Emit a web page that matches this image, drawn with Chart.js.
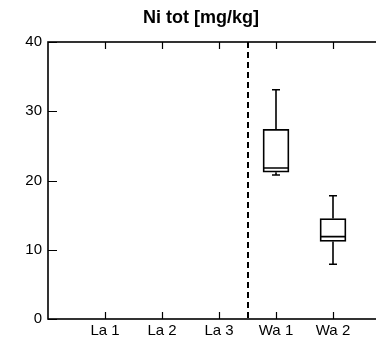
<!DOCTYPE html>
<html>
<head>
<meta charset="utf-8">
<script src="https://cdn.jsdelivr.net/npm/chart.js@4.4.1/dist/chart.umd.min.js"></script>
<style>
  html, body { margin: 0; padding: 0; background: #fff; overflow: hidden; }
  #wrap { width: 402px; height: 345px; }
</style>
</head>
<body>
<div id="wrap"><canvas id="chart" width="402" height="345"></canvas></div>
<script>
// chart data
var categories = ["La 1", "La 2", "La 3", "Wa 1", "Wa 2"];
var catPos = [1, 2, 3, 4, 5];
var whiskerLow = [null, null, null, 20.8, 7.9];
var q1 = [null, null, null, 21.2, 11.2];
var median = [null, null, null, 21.8, 11.9];
var q3 = [null, null, null, 27.4, 14.5];
var whiskerHigh = [null, null, null, 33.1, 17.8];
var yTicks = [0, 10, 20, 30, 40];
var dividerAt = 3.5;

var boxData = [];
for (var i = 0; i < categories.length; i++) {
  if (q1[i] !== null) boxData.push({ x: catPos[i], y: [q1[i], q3[i]] });
}

// frame, inward ticks, divider, whiskers and medians
var boxExtras = {
  id: "boxExtras",
  afterDatasetsDraw: function(chart) {
    var ctx = chart.ctx, a = chart.chartArea;
    var xs = chart.scales.x, ys = chart.scales.y;
    ctx.save();
    ctx.strokeStyle = "#000";

    // whiskers + medians
    ctx.lineWidth = 1.6;
    for (var i = 0; i < categories.length; i++) {
      if (q1[i] === null) continue;
      var px = Math.round(xs.getPixelForValue(catPos[i]));
      var half = 13, cap = 4;
      ctx.beginPath();
      ctx.moveTo(px, ys.getPixelForValue(q3[i]));
      ctx.lineTo(px, ys.getPixelForValue(whiskerHigh[i]));
      ctx.moveTo(px - cap, ys.getPixelForValue(whiskerHigh[i]));
      ctx.lineTo(px + cap, ys.getPixelForValue(whiskerHigh[i]));
      ctx.moveTo(px, ys.getPixelForValue(q1[i]));
      ctx.lineTo(px, ys.getPixelForValue(whiskerLow[i]));
      ctx.moveTo(px - cap, ys.getPixelForValue(whiskerLow[i]));
      ctx.lineTo(px + cap, ys.getPixelForValue(whiskerLow[i]));
      ctx.moveTo(px - half, ys.getPixelForValue(median[i]));
      ctx.lineTo(px + half, ys.getPixelForValue(median[i]));
      ctx.stroke();
    }

    // dashed divider
    var dx = Math.round(xs.getPixelForValue(dividerAt));
    ctx.lineWidth = 2;
    ctx.setLineDash([6, 4]);
    ctx.beginPath();
    ctx.moveTo(dx, a.top);
    ctx.lineTo(dx, a.bottom);
    ctx.stroke();
    ctx.setLineDash([]);

    // axes frame
    ctx.lineWidth = 1.6;
    ctx.strokeRect(a.left, a.top, a.right - a.left, a.bottom - a.top);

    // inward ticks
    ctx.lineWidth = 1.2;
    ctx.beginPath();
    for (var j = 0; j < catPos.length; j++) {
      var tx = Math.round(xs.getPixelForValue(catPos[j])) + 0.5;
      ctx.moveTo(tx, a.bottom); ctx.lineTo(tx, a.bottom - 7);
      ctx.moveTo(tx, a.top); ctx.lineTo(tx, a.top + 7);
    }
    for (var k = 0; k < yTicks.length; k++) {
      var ty = Math.round(ys.getPixelForValue(yTicks[k])) + 0.5;
      ctx.moveTo(a.left, ty); ctx.lineTo(a.left + 9, ty);
    }
    ctx.stroke();
    ctx.restore();
  }
};

var tickFont = { family: "'Liberation Sans', Arial, sans-serif", size: 15 };

new Chart(document.getElementById("chart").getContext("2d"), {
  type: "bar",
  data: {
    datasets: [{
      data: boxData,
      backgroundColor: "#fff",
      borderColor: "#000",
      borderWidth: 1.8,
      borderSkipped: false,
      barThickness: 26
    }]
  },
  options: {
    responsive: false,
    animation: false,
    layout: { padding: { left: 12, right: 12, top: 0, bottom: 0 } },
    plugins: {
      legend: { display: false },
      tooltip: { enabled: false },
      title: {
        display: true,
        text: "Ni tot [mg/kg]",
        color: "#000",
        font: { family: "'Liberation Sans', Arial, sans-serif", size: 18, weight: "bold" },
        padding: { top: 7, bottom: 13.4 }
      }
    },
    scales: {
      x: {
        type: "linear",
        min: 0,
        max: 6,
        offset: false,
        grid: { display: false, drawTicks: false, offset: false },
        border: { display: false },
        afterBuildTicks: function(scale) {
          scale.ticks = catPos.map(function(v) { return { value: v }; });
        },
        afterFit: function(scale) { scale.height = 26; },
        ticks: {
          color: "#000",
          font: tickFont,
          padding: 3,
          maxRotation: 0,
          autoSkip: false,
          callback: function(v) {
            var idx = catPos.indexOf(v);
            return idx >= 0 ? categories[idx] : "";
          }
        }
      },
      y: {
        min: 0,
        max: 40,
        grid: { display: false, drawTicks: false },
        border: { display: false },
        afterBuildTicks: function(scale) {
          scale.ticks = yTicks.map(function(v) { return { value: v }; });
        },
        afterFit: function(scale) { scale.width = 36; },
        ticks: { color: "#000", font: tickFont, padding: 6 }
      }
    }
  },
  plugins: [boxExtras]
});
</script>
</body>
</html>
